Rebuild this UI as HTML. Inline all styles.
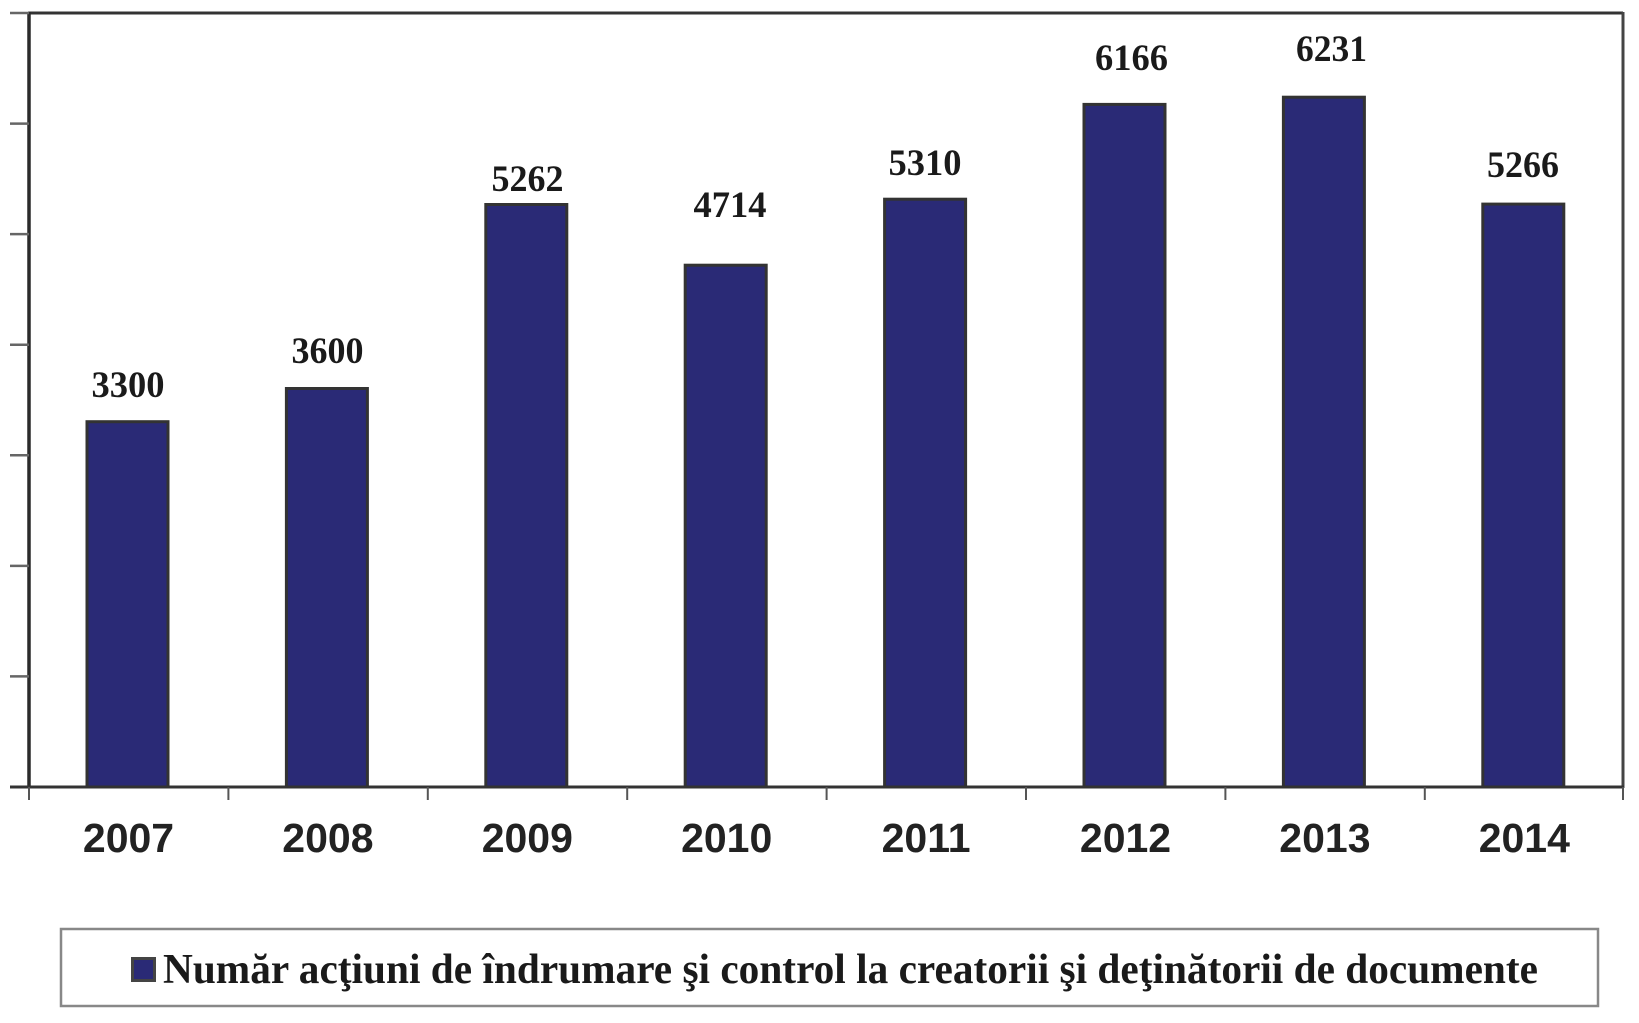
<!DOCTYPE html>
<html>
<head>
<meta charset="utf-8">
<style>
  html, body { margin: 0; padding: 0; background: #ffffff; }
  svg { display: block; }
</style>
</head>
<body>
<svg width="1639" height="1023" viewBox="0 0 1639 1023" xmlns="http://www.w3.org/2000/svg">
  <rect x="0" y="0" width="1639" height="1023" fill="#ffffff"/>

  <!-- plot frame -->
  <line x1="28" y1="13" x2="1623" y2="13" stroke="#333333" stroke-width="3"/>
  <line x1="1623" y1="12" x2="1623" y2="788" stroke="#444444" stroke-width="3"/>
  <line x1="29" y1="12" x2="29" y2="788" stroke="#2a2a2a" stroke-width="3.5"/>

  <!-- y ticks -->
  <g stroke="#666666" stroke-width="2.5">
    <line x1="10" y1="13" x2="29" y2="13"/>
    <line x1="10" y1="123.6" x2="29" y2="123.6"/>
    <line x1="10" y1="234.1" x2="29" y2="234.1"/>
    <line x1="10" y1="344.7" x2="29" y2="344.7"/>
    <line x1="10" y1="455.3" x2="29" y2="455.3"/>
    <line x1="10" y1="565.9" x2="29" y2="565.9"/>
    <line x1="10" y1="676.4" x2="29" y2="676.4"/>
  </g>

  <!-- bars -->
  <g fill="#2a2a76" stroke="#333333" stroke-width="3">
    <rect x="87" y="421.7" width="81" height="365.3"/>
    <rect x="286.4" y="388.5" width="81" height="398.5"/>
    <rect x="485.8" y="204.5" width="81" height="582.5"/>
    <rect x="685.2" y="265.2" width="81" height="521.8"/>
    <rect x="884.6" y="199.2" width="81" height="587.8"/>
    <rect x="1084" y="104.4" width="81" height="682.6"/>
    <rect x="1283.4" y="97.2" width="81" height="689.8"/>
    <rect x="1482.8" y="204.1" width="81" height="582.9"/>
  </g>

  <!-- x axis -->
  <line x1="10" y1="787" x2="1624" y2="787" stroke="#333333" stroke-width="3"/>
  <g stroke="#555555" stroke-width="2">
    <line x1="29" y1="787" x2="29" y2="800"/>
    <line x1="228.4" y1="787" x2="228.4" y2="800"/>
    <line x1="427.8" y1="787" x2="427.8" y2="800"/>
    <line x1="627.2" y1="787" x2="627.2" y2="800"/>
    <line x1="826.6" y1="787" x2="826.6" y2="800"/>
    <line x1="1026" y1="787" x2="1026" y2="800"/>
    <line x1="1225.4" y1="787" x2="1225.4" y2="800"/>
    <line x1="1424.8" y1="787" x2="1424.8" y2="800"/>
    <line x1="1623" y1="787" x2="1623" y2="800"/>
  </g>

  <!-- value labels -->
  <g font-family="'Liberation Serif', serif" font-weight="bold" font-size="37" fill="#1a1a1a" text-anchor="middle">
    <text x="128" y="397" textLength="73" lengthAdjust="spacingAndGlyphs">3300</text>
    <text x="327.5" y="363" textLength="72" lengthAdjust="spacingAndGlyphs">3600</text>
    <text x="527.5" y="191" textLength="72" lengthAdjust="spacingAndGlyphs">5262</text>
    <text x="730" y="217" textLength="73" lengthAdjust="spacingAndGlyphs">4714</text>
    <text x="925" y="175" textLength="73" lengthAdjust="spacingAndGlyphs">5310</text>
    <text x="1131.5" y="70" textLength="73" lengthAdjust="spacingAndGlyphs">6166</text>
    <text x="1331.5" y="61" textLength="71" lengthAdjust="spacingAndGlyphs">6231</text>
    <text x="1523" y="177" textLength="72" lengthAdjust="spacingAndGlyphs">5266</text>
  </g>

  <!-- category labels -->
  <g font-family="'Liberation Sans', sans-serif" font-weight="bold" font-size="41" fill="#222222" text-anchor="middle">
    <text x="128.5" y="852">2007</text>
    <text x="327.9" y="852">2008</text>
    <text x="527.3" y="852">2009</text>
    <text x="726.7" y="852">2010</text>
    <text x="926.1" y="852">2011</text>
    <text x="1125.5" y="852">2012</text>
    <text x="1324.9" y="852">2013</text>
    <text x="1524.3" y="852">2014</text>
  </g>

  <!-- legend -->
  <rect x="61" y="929" width="1537" height="77" fill="#ffffff" stroke="#888888" stroke-width="2.5"/>
  <rect x="132.5" y="958.5" width="22" height="22" fill="#2a2a76" stroke="#444444" stroke-width="3"/>
  <text x="163" y="983" font-family="'Liberation Serif', serif" font-weight="bold" font-size="42" fill="#1a1a1a" textLength="1375" lengthAdjust="spacingAndGlyphs">Număr acţiuni de îndrumare şi control la creatorii şi deţinătorii de documente</text>
</svg>
</body>
</html>
